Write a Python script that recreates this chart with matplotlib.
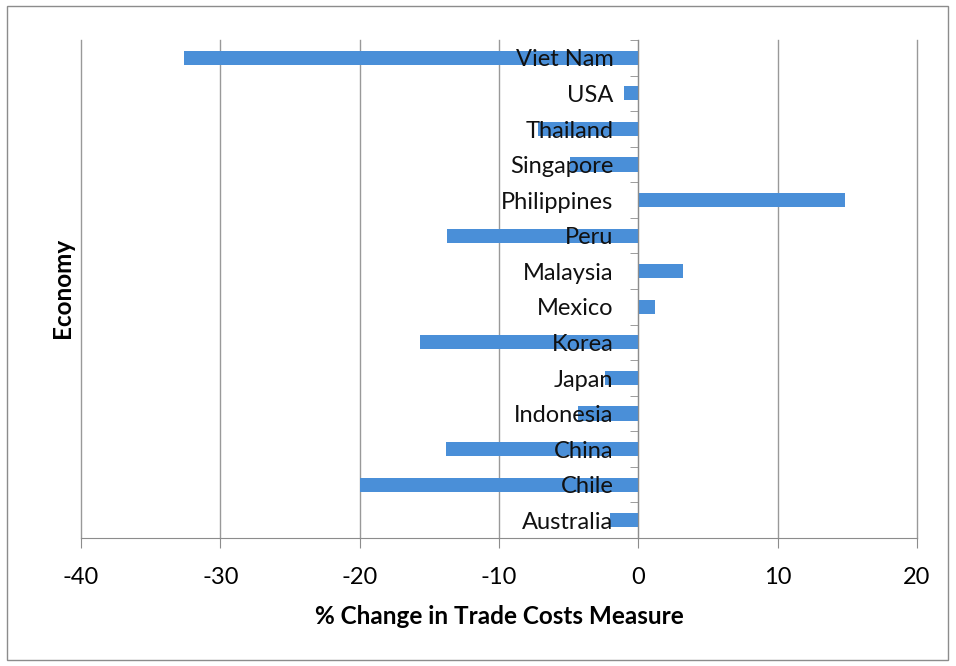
import numpy as np
import matplotlib.pyplot as plt
from matplotlib.patches import Rectangle
from matplotlib.ticker import FixedLocator

plt.rcParams['font.family'] = ['Lato', 'DejaVu Sans']

# bottom to top
economies = ["Australia", "Chile", "China", "Indonesia", "Japan", "Korea", "Mexico",
             "Malaysia", "Peru", "Philippines", "Singapore", "Thailand", "USA", "Viet Nam"]
pct_change = [-2.0, -20.0, -13.8, -4.3, -2.4, -15.7, 1.2,
              3.2, -13.7, 14.8, -4.9, -7.2, -1.0, -32.6]
xticks = [-40, -30, -20, -10, 0, 10, 20]

fig = plt.figure(figsize=(9.56, 6.66), dpi=100)
ax = fig.add_axes([81/956, 1 - 538/666, (917 - 81)/956, (538 - 40)/666])

# outer chart border
fig.patches.append(Rectangle((7/956, 6/666), (948 - 7)/956, (660 - 6)/666,
                             transform=fig.transFigure, fill=False,
                             edgecolor='#8c8c8c', linewidth=1.0))

y = np.arange(len(economies))
ax.barh(y, pct_change, height=0.4, color='#4a8fd8', zorder=2)

ax.set_xlim(-40, 20)
ax.set_ylim(-0.5, len(economies) - 0.5)
ax.set_xticks(xticks)
ax.set_xticklabels([str(t) for t in xticks], fontsize=17)
ax.xaxis.grid(True, color='#999999', linewidth=1.0, zorder=0)
for gl in ax.get_xgridlines():
    gl.set_clip_on(False)
ax.set_axisbelow(True)

# category labels sit next to the zero axis, on top of the bars
ax.set_yticks(y)
ax.set_yticklabels([])
for yi, name in zip(y, economies):
    ax.annotate(name, xy=(0, yi), xytext=(-18, -1.5), textcoords='offset points',
                ha='right', va='center', fontsize=17, color='#111111', zorder=5)
ax.yaxis.set_minor_locator(FixedLocator(np.arange(-0.5, len(economies), 1.0)))
ax.tick_params(axis='y', which='major', length=0)
ax.tick_params(axis='y', which='minor', length=6, color='#8c8c8c', direction='out')
ax.tick_params(axis='x', length=7, color='#8c8c8c', direction='out', pad=14)

ax.spines['left'].set_position(('data', 0))
ax.spines['left'].set_color('#8c8c8c')
ax.spines['bottom'].set_color('#8c8c8c')
ax.spines['top'].set_visible(False)
ax.spines['right'].set_visible(False)

ax.set_xlabel('% Change in Trade Costs Measure', fontsize=17.5, fontweight='bold', labelpad=12)
fig.text(62/956, 1 - 288/666, 'Economy', rotation=90, fontsize=17.5, fontweight='bold',
         ha='center', va='center')

fig.savefig('out.png', dpi=100)
